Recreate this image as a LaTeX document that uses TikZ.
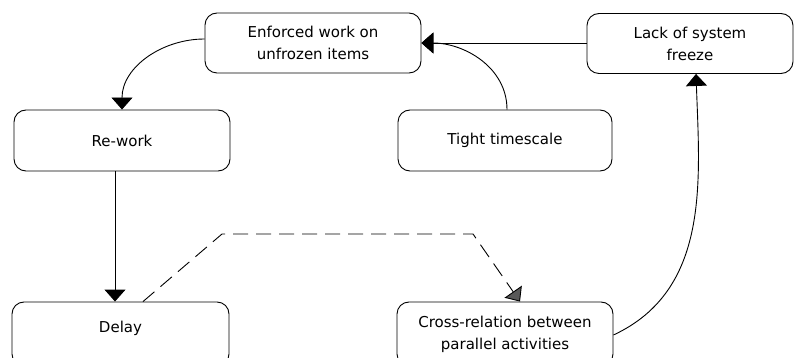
\documentclass[tikz,border=0pt]{standalone}
\usepackage{fontspec}
\setmainfont{DejaVu Sans}
\usetikzlibrary{arrows.meta}
\tikzset{
  box/.style={draw, line width=0.9pt, rounded corners=12pt, align=center,
    font=\fontsize{15}{22}\selectfont, inner sep=0pt},
  conn/.style={line width=0.9pt, -{Triangle[length=12pt,width=21pt]}},
  dconn/.style={line width=0.9pt, dash pattern=on 15pt off 8pt,
    -{Triangle[length=12pt,width=21pt,fill=black!65]}},
}
\begin{document}
\begin{tikzpicture}[x=1pt,y=-1pt]
\useasboundingbox (0,0) rectangle (795,358);
\node[box, minimum width=216pt, minimum height=60pt] (enf) at (313,43) {Enforced work on\\unfrozen items};
\node[box, minimum width=206pt, minimum height=60pt] (lack) at (690,43.5) {Lack of system\\freeze};
\node[box, minimum width=216pt, minimum height=61pt] (rework) at (122,140.5) {Re-work};
\node[box, minimum width=214pt, minimum height=61pt] (tight) at (505,140.5) {Tight timescale};
\node[box, minimum width=217pt, minimum height=64pt] (delay) at (120.5,334) {\raisebox{15pt}{Delay}};
\node[box, minimum width=216pt, minimum height=64pt] (cross) at (505,334) {\raisebox{2pt}{\begin{tabular}{@{}c@{}}Cross-relation between\\parallel activities\end{tabular}}};
\coordinate (b1) at (222,234);
\coordinate (b2) at (473,234);
\draw[conn] (enf.west |- 0,39) to[out=180,in=90] (rework.north);
\draw[conn] ([xshift=-7pt]rework.south) -- ([xshift=-5.5pt]delay.north);
\draw[dconn] ([xshift=22.5pt]delay.north) -- (b1) -- (b2) -- ([xshift=15pt]cross.north);
\draw[conn] (cross.east |- 0,335) to[out=25,in=-88] ([xshift=6pt]lack.south);
\draw[conn] (lack.west |- enf.east) -- (enf.east);
\draw[conn] ([xshift=2pt]tight.north) to[out=90,in=0] (enf.east);
\end{tikzpicture}
\end{document}
